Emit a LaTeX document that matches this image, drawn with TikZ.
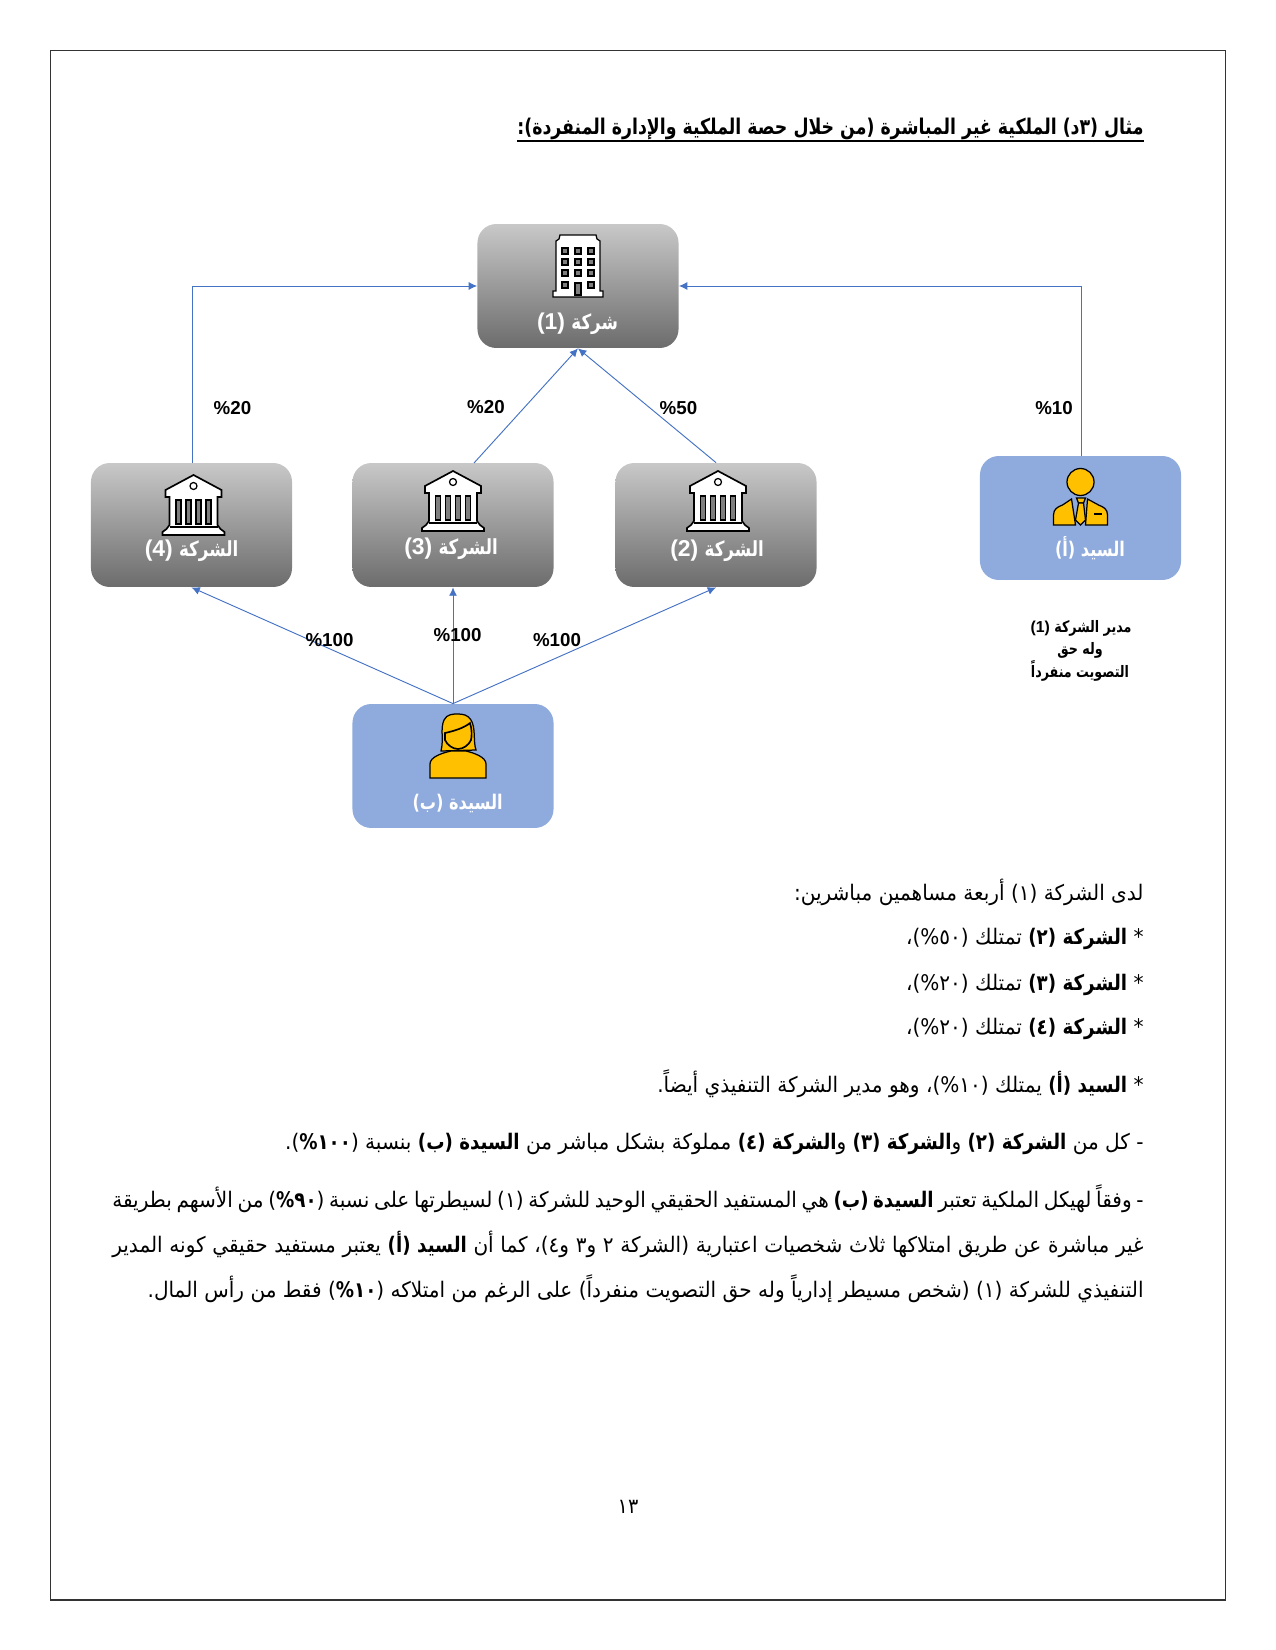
\documentclass[tikz,border=0pt]{standalone}
\usepackage{fontspec}
\setmainfont{Liberation Sans}
\newfontfamily\arabicfont[Script=Arabic,UprightFeatures={FakeStretch=0.92},BoldFeatures={FakeStretch=0.8}]{DejaVu Sans}
\newfontfamily\bodyfont[Script=Arabic,UprightFeatures={FakeStretch=0.935},BoldFeatures={FakeStretch=0.85}]{DejaVu Sans}
\TeXXeTstate=1
\usetikzlibrary{arrows.meta}

\begin{document}
\begin{tikzpicture}[x=0.48pt, y=-0.48pt,
    boxbase/.style={rectangle, rounded corners=9pt, minimum width=96.5pt,
        minimum height=59.5pt, inner sep=0},
    companybox/.style={boxbase, top color=top-grey, bottom color=bottom-grey},
    personbox/.style={boxbase, fill=person-blue},
    boxlabel/.style={text=white, inner sep=0, font=\fontsize{11}{13}\selectfont\bfseries},
    personlabel/.style={text=white, inner sep=0, font=\fontsize{9.7}{12}\selectfont\bfseries},
    sharelabel/.style={inner sep=0, font=\fontsize{9}{11}\selectfont\bfseries},
    notelabel/.style={inner sep=0, font=\fontsize{7.6}{9}\selectfont\bfseries},
    bodyline/.style={anchor=east, inner sep=0, font=\fontsize{10.3}{12}\selectfont},
    ownarrow/.style={draw=arrow-blue, line width=0.45pt, -{Latex[length=4pt, width=3.8pt]}},
    iconline/.style={draw=black, line width=0.6pt}
]
    % Definitions
    \definecolor{top-grey}{RGB}{200, 200, 200}
    \definecolor{bottom-grey}{RGB}{108, 108, 108}
    \definecolor{person-blue}{RGB}{143, 170, 220}
    \definecolor{arrow-blue}{RGB}{68, 114, 196}
    \definecolor{gold-tone}{RGB}{255, 192, 0}
    \definecolor{slit-grey}{RGB}{127, 127, 127}

    \newcommand{\boxword}[1]{{\fontsize{10}{12}\selectfont\arabicfont #1}}

    \newcommand{\drawtower}[1]{
        \begin{scope}[shift={(#1)}]
            \draw[iconline, fill=white] (-18,-31) -- (18,-31) -- (19,-27)
                -- (22,-25) -- (22,25) -- (25,25) -- (25,31) -- (-25,31)
                -- (-25,25) -- (-22,25) -- (-22,-25) -- (-19,-27) -- cycle;
            \foreach \wy in {-15,-4,7} {
                \foreach \wx in {-13,0,13} {
                    \draw[iconline, fill=slit-grey]
                        (\wx-3,\wy-3) rectangle (\wx+3,\wy+3);
                }
            }
            \foreach \wx in {-13,13} {
                \draw[iconline, fill=slit-grey] (\wx-3,16) rectangle (\wx+3,22);
            }
            \draw[iconline, fill=slit-grey] (-3,17) rectangle (3,29);
        \end{scope}
    }

    \newcommand{\drawbank}[1]{
        \begin{scope}[shift={(#1)}]
            \draw[iconline, line width=0.8pt, fill=white] (0,-30) -- (28,-15)
                -- (28,-8) -- (24,-8) -- (24,20) -- (27,24) -- (31,27)
                -- (31,30) -- (-31,30) -- (-31,27) -- (-27,24) -- (-24,20)
                -- (-24,-8) -- (-28,-8) -- (-28,-15) -- cycle;
            \draw[iconline, fill=white] (0,-19) circle[radius=3.5];
            \foreach \sx in {-15,-5,5,15} {
                \draw[iconline, fill=slit-grey]
                    (\sx-2.5,-5) rectangle (\sx+2.5,19);
            }
            \draw[iconline] (-24,22) -- (24,22);
        \end{scope}
    }

    \newcommand{\drawman}[1]{
        \begin{scope}[shift={(#1)}]
            \draw[iconline, fill=gold-tone] (0,0) circle[radius=13.5];
            \draw[iconline, fill=gold-tone] (-5,43) -- (-27,43) -- (-27,33)
                .. controls (-27,27) and (-23,25) .. (-18,23) -- (-9,17) -- cycle;
            \draw[iconline, fill=gold-tone] (5,43) -- (27,43) -- (27,33)
                .. controls (27,27) and (23,25) .. (18,23) -- (7,17) -- cycle;
            \draw[iconline, fill=gold-tone] (-4,16) -- (5,16) -- (3,21)
                -- (-2,21) -- cycle;
            \draw[iconline, fill=gold-tone] (-2,21) -- (3,21) -- (5,38)
                -- (0,43) -- (-5,38) -- cycle;
            \draw[iconline, line width=1pt] (13,32) -- (21,32);
        \end{scope}
    }

    \newcommand{\drawwoman}[1]{
        \begin{scope}[shift={(#1)}]
            \draw[iconline, fill=gold-tone] (-17,37)
                .. controls (-14,25) and (-18,15) .. (-14,6)
                .. controls (-11,0) and (-5,0) .. (0,0)
                .. controls (5,0) and (10,1) .. (13,6)
                .. controls (18,14) and (15,28) .. (18,36) -- cycle;
            \draw[iconline, line width=0.8pt, fill=gold-tone] (-13,19)
                .. controls (-4,17) and (6,14) .. (12,9)
                .. controls (14,15) and (14,22) .. (13,26)
                .. controls (11,31) and (5,35) .. (0,35)
                .. controls (-5,35) and (-11,31) .. (-13,26) -- cycle;
            \draw[iconline, fill=gold-tone] (-28,64) -- (-28,50)
                .. controls (-28,43) and (-16,39) .. (-7,37) -- (8,37)
                .. controls (16,39) and (28,43) .. (28,50) -- (28,64) -- cycle;
        \end{scope}
    }

    \useasboundingbox (0,0) rectangle (1275,1650);
    \draw[line width=0.8pt, draw=black!80] (50.5,50.5) rectangle (1225.5,1600);

    % Heading
    \node[anchor=east, inner sep=0, font=\fontsize{10.4}{13}\selectfont\bfseries] (heading) at (1144,129)
        {\arabicfont\beginR مثال (٣د) الملكية غير المباشرة (من خلال حصة الملكية والإدارة المنفردة):\endR};
    \draw[line width=0.9pt] ([yshift=-0.2pt]heading.south west) -- ([yshift=-0.2pt]heading.south east);

    % Boxes
    \node[companybox] (company1) at (578,286) {};
    \node[companybox] (company4) at (191.5,525) {};
    \node[companybox] (company3) at (453,525) {};
    \node[companybox] (company2) at (716,525) {};
    \node[personbox] (mister) at (1080.5,518) {};
    \node[personbox] (lady) at (453,766) {};

    % Icons
    \drawtower{578,266}
    \drawbank{193.5,505}
    \drawbank{453,501}
    \drawbank{718,501}
    \drawman{1080.5,482}
    \drawwoman{458,714}

    % Box labels
    \node[boxlabel] (label1) at (577.5,324) {\beginR\boxword{شركة} (1)\endR};
    \node[boxlabel] (label4) at (191.5,551) {\beginR\boxword{الشركة} (4)\endR};
    \node[boxlabel] (label3) at (451,549) {\beginR\boxword{الشركة} (3)\endR};
    \node[boxlabel] (label2) at (717,551) {\beginR\boxword{الشركة} (2)\endR};
    \node[personlabel] (labelA) at (1090,548) {\arabicfont\beginR السيد (أ)\endR};
    \node[personlabel] (labelB) at (457.6,803) {\arabicfont\beginR السيدة (ب)\endR};

    % Connectors
    \coordinate (company3out) at (474,463);
    \draw[ownarrow] ([xshift=0.7pt]company4.north) |- (company1.west);
    \draw[ownarrow] ([xshift=0.4pt]mister.north) |- (company1.east);
    \draw[ownarrow] (company3out) -- (company1.south);
    \draw[ownarrow] (company2.north) -- (company1.south);
    \draw[ownarrow] (lady.north) -- (company4.south);
    \draw[ownarrow] (lady.north) -- (company3.south);
    \draw[ownarrow] (lady.north) -- (company2.south);

    % Shares
    \node[sharelabel] (share4) at (232.5,408) {\%20};
    \node[sharelabel] (share3) at (486,407) {\%20};
    \node[sharelabel] (share2) at (678.5,408) {\%50};
    \node[sharelabel] (shareA) at (1054,408) {\%10};
    \node[sharelabel] (own4) at (329.5,640) {\%100};
    \node[sharelabel] (own3) at (457.6,635) {\%100};
    \node[sharelabel] (own2) at (557,640) {\%100};

    % Note under the manager
    \node[notelabel] (note1) at (1081,628) {\beginR{\arabicfont مدير الشركة} (1)\endR};
    \node[notelabel] (note2) at (1080,650) {\arabicfont\beginR وله حق\endR};
    \node[notelabel] (note3) at (1080,671) {\arabicfont\beginR التصويت منفرداً\endR};

    % Body text
    \node[bodyline] (line1) at (1144,892) {\bodyfont\beginR لدى الشركة (١) أربعة مساهمين مباشرين:\endR};
    \node[bodyline] (line2) at (1144,939) {\bodyfont\beginR * \textbf{الشركة (٢)} تمتلك (٥٠\%)،\endR};
    \node[bodyline] (line3) at (1144,985) {\bodyfont\beginR * \textbf{الشركة (٣)} تمتلك (٢٠\%)،\endR};
    \node[bodyline] (line4) at (1144,1029) {\bodyfont\beginR * \textbf{الشركة (٤)} تمتلك (٢٠\%)،\endR};
    \node[bodyline] (line5) at (1144,1084) {\bodyfont\beginR * \textbf{السيد (أ)} يمتلك (١٠\%)، وهو مدير الشركة التنفيذي أيضاً.\endR};
    \node[bodyline] (line6) at (1144,1144) {\bodyfont\beginR - كل من \textbf{الشركة (٢)} و\textbf{الشركة (٣)} و\textbf{الشركة (٤)} مملوكة بشكل مباشر من \textbf{السيدة (ب)} بنسبة (\textbf{١٠٠\%}).\endR};
    \node[bodyline] (line7) at (1144,1199) {\hbox to 495pt{\bodyfont\beginR - وفقاً لهيكل الملكية تعتبر \textbf{السيدة (ب)} هي المستفيد الحقيقي الوحيد للشركة (١) لسيطرتها على نسبة (\textbf{٩٠\%}) من الأسهم بطريقة\endR}};
    \node[bodyline] (line8) at (1144,1244) {\hbox to 495pt{\bodyfont\beginR غير مباشرة عن طريق امتلاكها ثلاث شخصيات اعتبارية (الشركة ٢ و٣ و٤)، كما أن \textbf{السيد (أ)} يعتبر مستفيد حقيقي كونه المدير\endR}};
    \node[bodyline] (line9) at (1144,1289) {\bodyfont\beginR التنفيذي للشركة (١) (شخص مسيطر إدارياً وله حق التصويت منفرداً) على الرغم من امتلاكه (\textbf{١٠\%}) فقط من رأس المال.\endR};

    % Page number
    \node[inner sep=0, font=\fontsize{10}{12}\selectfont] (pagenum) at (628,1507) {\arabicfont\beginR ١٣\endR};
\end{tikzpicture}
\end{document}
